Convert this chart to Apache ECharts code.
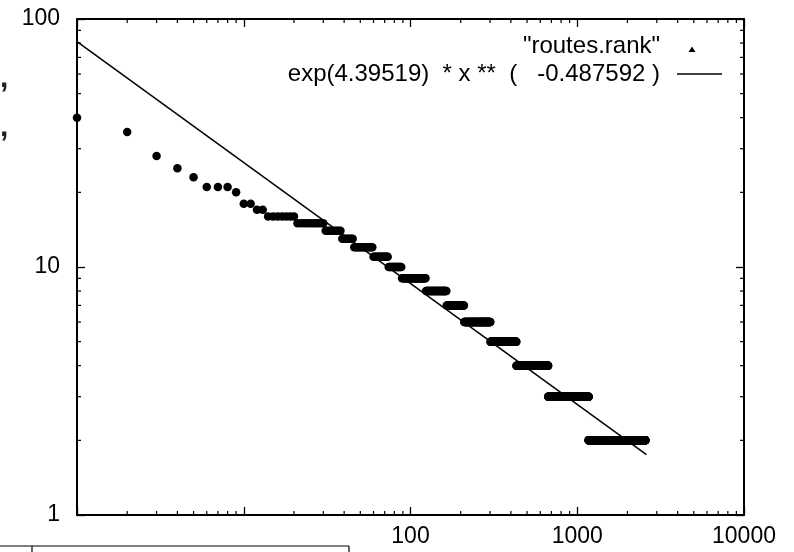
<!DOCTYPE html>
<html>
<head>
<meta charset="utf-8">
<script src="https://cdn.jsdelivr.net/npm/echarts@6/dist/echarts.min.js"></script>
<style>
  html, body { margin: 0; padding: 0; background: #fff; }
  #chart { width: 794px; height: 552px; }
</style>
</head>
<body>
<div id="chart"></div>
<script>
// Routes per rank, stored as runs: every rank from rankFrom[i] to rankTo[i] carries routeCount[i] routes
const rankFrom   = [1, 2, 3, 4, 5, 6, 9, 10, 12, 14, 21, 31, 39, 46, 60, 74, 89, 124, 165, 210, 302, 432, 670, 1170];
const rankTo     = [1, 2, 3, 4, 5, 8, 9, 11, 13, 20, 30, 38, 45, 59, 73, 88, 123, 164, 209, 301, 431, 669, 1169, 2560];
const routeCount = [40, 35, 28, 25, 23, 21, 20, 18, 17, 16, 15, 14, 13, 12, 11, 10, 9, 8, 7, 6, 5, 4, 3, 2];

// Power-law fit shown in the key: exp(fitA) * x ** fitB, drawn over fitRanks
const fitA = 4.39519;
const fitB = -0.487592;
const fitRanks = [1, 2600];

// Axis ticks and labels
const xTickValues = [1, 10, 100, 1000, 10000];
const xTickLabels = ['', '', '100', '1000', '10000'];
const yTickValues = [1, 10, 100];
const yTickLabels = ['1', '10', '100'];
const minorMultiples = [2, 3, 4, 5, 6, 7, 8, 9];

const seriesName = '"routes.rank"';
const fitName = 'exp(4.39519)  * x **  (   -0.487592 )';

const FONT = '"Liberation Sans", Arial, Helvetica, sans-serif';

// expand the runs into one point per rank
const rankPoints = [];
for (let i = 0; i < routeCount.length; i++) {
  for (let r = rankFrom[i]; r <= rankTo[i]; r++) rankPoints.push([r, routeCount[i]]);
}

const fitPoints = fitRanks.map(x => [x, Math.exp(fitA) * Math.pow(x, fitB)]);

// minor ticks at 2..9 of every decade
function minorTicks(decades) {
  const out = [];
  decades.forEach(d => minorMultiples.forEach(m => out.push(d * m)));
  return out;
}
const xMinor = minorTicks([1, 10, 100, 1000]);
const yMinor = minorTicks([1, 10]);

const X_MIN = 1, X_MAX = 10000, Y_MIN = 1, Y_MAX = 100;
const MINOR_LEN = 4;

function labelFor(values, labels) {
  return v => {
    const i = values.findIndex(t => Math.abs(t - v) / t < 1e-6);
    return i >= 0 ? labels[i] : '';
  };
}

// logarithmic axes carrying the frame, major ticks and labels
function logAxis(opts) {
  const a = {
    type: 'log',
    logBase: 10,
    min: opts.min,
    max: opts.max,
    position: opts.position,
    splitLine: { show: false },
    axisLine: { show: true, onZero: false, lineStyle: { color: '#000', width: 2 } },
    axisTick: {
      show: true,
      inside: true,
      length: 8,
      customValues: opts.ticks,
      lineStyle: { color: '#000', width: 1.3 }
    },
    axisLabel: { show: false },
    minorTick: { show: false }
  };
  if (opts.labels) {
    a.axisLabel = {
      show: true,
      customValues: opts.ticks,
      formatter: opts.labels,
      margin: opts.margin,
      color: '#000',
      fontFamily: FONT,
      fontSize: 23
    };
  }
  return a;
}

const tickStyle = { stroke: '#000', lineWidth: 1.2 };

// short inward marks on both opposite edges of the plot frame,
// placed along the axis through the log scale
function renderXMinor(params, api) {
  const cs = params.coordSys;
  const px = api.coord([api.value(0), 10])[0];
  const yb = cs.y + cs.height;
  const yt = cs.y;
  return {
    type: 'group',
    children: [
      { type: 'line', shape: { x1: px, y1: yb, x2: px, y2: yb - MINOR_LEN }, style: tickStyle },
      { type: 'line', shape: { x1: px, y1: yt, x2: px, y2: yt + MINOR_LEN }, style: tickStyle }
    ]
  };
}
function renderYMinor(params, api) {
  const cs = params.coordSys;
  const py = api.coord([100, api.value(1)])[1];
  const xl = cs.x;
  const xr = cs.x + cs.width;
  return {
    type: 'group',
    children: [
      { type: 'line', shape: { x1: xl, y1: py, x2: xl + MINOR_LEN, y2: py }, style: tickStyle },
      { type: 'line', shape: { x1: xr, y1: py, x2: xr - MINOR_LEN, y2: py }, style: tickStyle }
    ]
  };
}

const chart = echarts.init(document.getElementById('chart'), null, { renderer: 'canvas' });

chart.setOption({
  animation: false,
  backgroundColor: '#fff',
  grid: { left: 77, right: 50, top: 19, bottom: 37, containLabel: false },
  xAxis: [
    logAxis({ min: X_MIN, max: X_MAX, position: 'bottom', ticks: xTickValues,
              labels: labelFor(xTickValues, xTickLabels), margin: 10 }),
    logAxis({ min: X_MIN, max: X_MAX, position: 'top', ticks: xTickValues })
  ],
  yAxis: [
    logAxis({ min: Y_MIN, max: Y_MAX, position: 'left', ticks: yTickValues,
              labels: labelFor(yTickValues, yTickLabels), margin: 17 }),
    logAxis({ min: Y_MIN, max: Y_MAX, position: 'right', ticks: yTickValues })
  ],
  legend: {
    orient: 'vertical',
    align: 'right',
    right: 72,
    top: 34,
    padding: 0,
    itemGap: 4,
    itemWidth: 45,
    itemHeight: 14,
    selectedMode: false,
    textStyle: { fontFamily: FONT, fontSize: 24, color: '#000', padding: [0, 12, 0, 0] },
    data: [
      { name: seriesName, icon: 'path://M0,0M45,14M11.5,13L18.5,13L15,7.5Z' },
      { name: fitName, icon: 'path://M0,0M45,14M0,6.3L45,6.3L45,7.7L0,7.7Z' }
    ]
  },
  series: [
    {
      name: seriesName,
      type: 'scatter',
      xAxisIndex: 0,
      yAxisIndex: 0,
      symbol: 'circle',
      symbolSize: 8.5,
      itemStyle: { color: '#000', opacity: 1 },
      progressive: 0,
      data: rankPoints
    },
    {
      name: fitName,
      type: 'line',
      xAxisIndex: 0,
      yAxisIndex: 0,
      showSymbol: false,
      symbol: 'none',
      lineStyle: { color: '#000', width: 1.5 },
      itemStyle: { color: '#000' },
      data: fitPoints
    },
    {
      name: 'xMinorTicks',
      type: 'custom',
      xAxisIndex: 0,
      yAxisIndex: 0,
      silent: true,
      clip: false,
      z: 5,
      renderItem: renderXMinor,
      data: xMinor.map(v => [v, 10])
    },
    {
      name: 'yMinorTicks',
      type: 'custom',
      xAxisIndex: 0,
      yAxisIndex: 0,
      silent: true,
      clip: false,
      z: 5,
      renderItem: renderYMinor,
      data: yMinor.map(v => [100, v])
    }
  ],
  graphic: [
    { type: 'text', left: 0, top: 64, style: { text: ',', font: 'bold 30px ' + FONT, fill: '#222' } },
    { type: 'text', left: 0, top: 113, style: { text: ',', font: 'bold 30px ' + FONT, fill: '#222' } },
    { type: 'line', shape: { x1: 0, y1: 546, x2: 349, y2: 546 }, style: { stroke: '#000', lineWidth: 1.2 } },
    { type: 'line', shape: { x1: 32, y1: 546, x2: 32, y2: 552 }, style: { stroke: '#000', lineWidth: 1.2 } },
    { type: 'line', shape: { x1: 349, y1: 546, x2: 349, y2: 552 }, style: { stroke: '#000', lineWidth: 1.2 } }
  ]
});
</script>
</body>
</html>
